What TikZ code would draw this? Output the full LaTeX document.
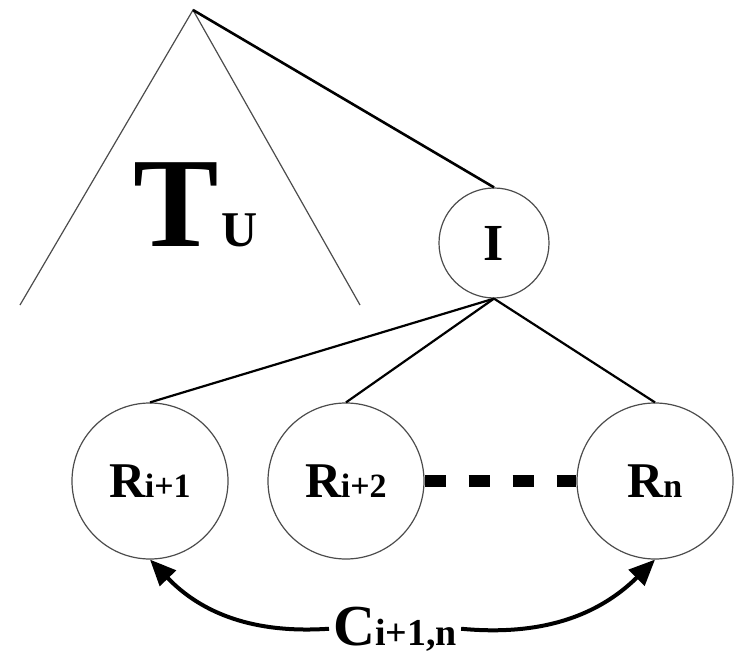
\documentclass[tikz,border=0pt]{standalone}
\usepackage{fontspec}
\setmainfont{Liberation Serif}
\usetikzlibrary{arrows.meta}

\newcommand\rname[2]{\fontsize{50}{50}\selectfont #1\kern-0.5pt{\fontsize{34}{34}\selectfont #2}}

\begin{document}
\begin{tikzpicture}[
  x=1pt, y=1pt,
  vertex/.style={circle, draw=black!70, line width=1.2pt, inner sep=0pt,
    minimum size=#1, font=\bfseries},
  vertex/.default=156pt,
  thin edge/.style={draw=black!70, line width=1.2pt},
  edge/.style={line width=2.2pt},
  bigarrow/.style={line width=4pt, -{Triangle[length=26pt, width=22pt]}},
  lbl/.style={anchor=base west, inner xsep=4pt, inner ysep=0pt, font=\bfseries}
]
\useasboundingbox (0,0) rectangle (738,-660);

% ── Subtree T_U ──
\coordinate (top)   at (193,-10);
\coordinate (baseL) at (20,-305);
\coordinate (baseR) at (360,-305);
\draw[thin edge] (baseL) -- (top) -- (baseR);
\node[lbl] (tu) at (129,-247)
  {\fontsize{128}{128}\selectfont T\kern3pt{\fontsize{50}{50}\selectfont U}};

% ── Nodes ──
\node[vertex=110pt] (I) at (494,-243) {\fontsize{52}{52}\selectfont I};
\node[vertex] (r1) at (150,-481) {\rname{R}{i+1}};
\node[vertex] (r2) at (346,-481) {\rname{R}{i+2}};
\node[vertex] (rn) at (655,-481) {\rname{R}{n}};
\node[lbl] (cost) at (329,-645)
  {\fontsize{58}{58}\selectfont C{\fontsize{38}{38}\selectfont i+1,n}};

% ── Edges ──
\draw[line width=2.6pt] (top) -- (I.north);
\draw[edge] (I.south) -- (r1.north);
\draw[edge] (I.south) -- (r2.north);
\draw[edge] (I.south) -- (rn.north);
\draw[line width=12pt, dash pattern=on 21pt off 23pt] (r2.east) -- (rn.west);

% ── Cost arrows ──
\draw[bigarrow] (cost.west) to[bend left=25] (r1.south);
\draw[bigarrow] (cost.east) to[bend right=25] (rn.south);

\end{tikzpicture}
\end{document}
